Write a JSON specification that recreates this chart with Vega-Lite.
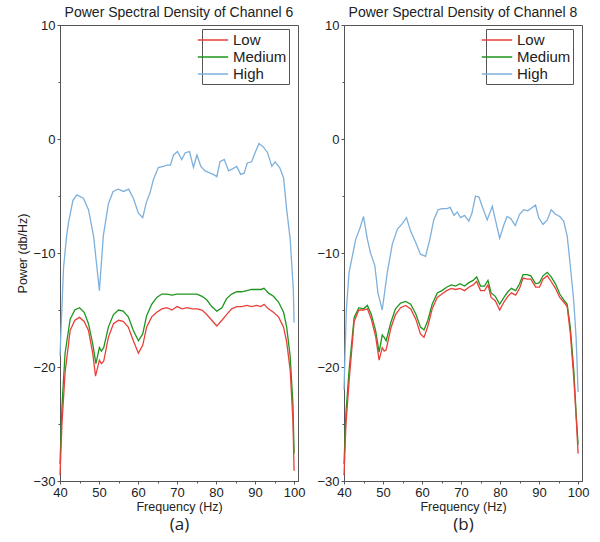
{
  "$schema": "https://vega.github.io/schema/vega-lite/v6.json",
  "padding": {"left": 16, "top": 5, "right": 5, "bottom": 5},
  "bounds": "flush",
  "spacing": 46,
  "datasets": {
    "psd": [
      {"panel":"a","level":"High","freq":40,"power":-19},
      {"panel":"a","level":"High","freq":40.9,"power":-11.3},
      {"panel":"a","level":"High","freq":41.7,"power":-8.5},
      {"panel":"a","level":"High","freq":42.2,"power":-7.3},
      {"panel":"a","level":"High","freq":43.3,"power":-5.4},
      {"panel":"a","level":"High","freq":44.3,"power":-4.9},
      {"panel":"a","level":"High","freq":46,"power":-5.2},
      {"panel":"a","level":"High","freq":47.3,"power":-6.2},
      {"panel":"a","level":"High","freq":48.6,"power":-8.5},
      {"panel":"a","level":"High","freq":50.1,"power":-13.3},
      {"panel":"a","level":"High","freq":51.1,"power":-8.5},
      {"panel":"a","level":"High","freq":52.4,"power":-5.7},
      {"panel":"a","level":"High","freq":53.6,"power":-4.6},
      {"panel":"a","level":"High","freq":54.9,"power":-4.4},
      {"panel":"a","level":"High","freq":56.3,"power":-4.6},
      {"panel":"a","level":"High","freq":57.6,"power":-4.4},
      {"panel":"a","level":"High","freq":58.8,"power":-5.2},
      {"panel":"a","level":"High","freq":60.1,"power":-6.5},
      {"panel":"a","level":"High","freq":61.2,"power":-6.9},
      {"panel":"a","level":"High","freq":62.1,"power":-5.6},
      {"panel":"a","level":"High","freq":63.1,"power":-4.7},
      {"panel":"a","level":"High","freq":63.9,"power":-3.6},
      {"panel":"a","level":"High","freq":65.2,"power":-2.5},
      {"panel":"a","level":"High","freq":66.5,"power":-2.4},
      {"panel":"a","level":"High","freq":67.4,"power":-2.3},
      {"panel":"a","level":"High","freq":68.3,"power":-2.3},
      {"panel":"a","level":"High","freq":69.1,"power":-1.4},
      {"panel":"a","level":"High","freq":70.1,"power":-1.1},
      {"panel":"a","level":"High","freq":71.2,"power":-1.8},
      {"panel":"a","level":"High","freq":72.1,"power":-1.2},
      {"panel":"a","level":"High","freq":73.2,"power":-1.1},
      {"panel":"a","level":"High","freq":74.2,"power":-2.5},
      {"panel":"a","level":"High","freq":75.1,"power":-1.4},
      {"panel":"a","level":"High","freq":76.1,"power":-2.4},
      {"panel":"a","level":"High","freq":77.2,"power":-2.8},
      {"panel":"a","level":"High","freq":78.5,"power":-3.0},
      {"panel":"a","level":"High","freq":79.3,"power":-3.1},
      {"panel":"a","level":"High","freq":80.2,"power":-3.3},
      {"panel":"a","level":"High","freq":81,"power":-2.0},
      {"panel":"a","level":"High","freq":82.1,"power":-1.8},
      {"panel":"a","level":"High","freq":83.2,"power":-2.8},
      {"panel":"a","level":"High","freq":84.3,"power":-2.6},
      {"panel":"a","level":"High","freq":85.3,"power":-2.4},
      {"panel":"a","level":"High","freq":86.3,"power":-3.1},
      {"panel":"a","level":"High","freq":87.2,"power":-3.0},
      {"panel":"a","level":"High","freq":88,"power":-2.1},
      {"panel":"a","level":"High","freq":89.1,"power":-2.0},
      {"panel":"a","level":"High","freq":90,"power":-1.2},
      {"panel":"a","level":"High","freq":91,"power":-0.4},
      {"panel":"a","level":"High","freq":92.1,"power":-0.7},
      {"panel":"a","level":"High","freq":93.2,"power":-1.2},
      {"panel":"a","level":"High","freq":94.3,"power":-2.4},
      {"panel":"a","level":"High","freq":95.1,"power":-2.0},
      {"panel":"a","level":"High","freq":96.3,"power":-2.5},
      {"panel":"a","level":"High","freq":97.3,"power":-3.4},
      {"panel":"a","level":"High","freq":98.1,"power":-6.2},
      {"panel":"a","level":"High","freq":99,"power":-8.8},
      {"panel":"a","level":"High","freq":99.8,"power":-13.2},
      {"panel":"a","level":"High","freq":100,"power":-16.1},

      {"panel":"a","level":"Medium","freq":40,"power":-28.5},
      {"panel":"a","level":"Medium","freq":40.5,"power":-23.5},
      {"panel":"a","level":"Medium","freq":41.3,"power":-18.8},
      {"panel":"a","level":"Medium","freq":42.6,"power":-15.8},
      {"panel":"a","level":"Medium","freq":43.8,"power":-15.0},
      {"panel":"a","level":"Medium","freq":45,"power":-14.8},
      {"panel":"a","level":"Medium","freq":46.2,"power":-15.2},
      {"panel":"a","level":"Medium","freq":47.3,"power":-16.2},
      {"panel":"a","level":"Medium","freq":48.4,"power":-18.0},
      {"panel":"a","level":"Medium","freq":49.2,"power":-19.7},
      {"panel":"a","level":"Medium","freq":50.1,"power":-18.3},
      {"panel":"a","level":"Medium","freq":50.6,"power":-18.6},
      {"panel":"a","level":"Medium","freq":51.2,"power":-18.3},
      {"panel":"a","level":"Medium","freq":52.4,"power":-16.5},
      {"panel":"a","level":"Medium","freq":53.7,"power":-15.4},
      {"panel":"a","level":"Medium","freq":55,"power":-15.0},
      {"panel":"a","level":"Medium","freq":56.2,"power":-15.1},
      {"panel":"a","level":"Medium","freq":57.5,"power":-15.6},
      {"panel":"a","level":"Medium","freq":58.8,"power":-16.8},
      {"panel":"a","level":"Medium","freq":60.1,"power":-17.7},
      {"panel":"a","level":"Medium","freq":61.2,"power":-17.1},
      {"panel":"a","level":"Medium","freq":62.2,"power":-15.5},
      {"panel":"a","level":"Medium","freq":63.5,"power":-14.5},
      {"panel":"a","level":"Medium","freq":64.8,"power":-13.9},
      {"panel":"a","level":"Medium","freq":66.1,"power":-13.6},
      {"panel":"a","level":"Medium","freq":67.4,"power":-13.6},
      {"panel":"a","level":"Medium","freq":68.7,"power":-13.7},
      {"panel":"a","level":"Medium","freq":70,"power":-13.6},
      {"panel":"a","level":"Medium","freq":71.3,"power":-13.6},
      {"panel":"a","level":"Medium","freq":72.6,"power":-13.6},
      {"panel":"a","level":"Medium","freq":73.9,"power":-13.6},
      {"panel":"a","level":"Medium","freq":75.1,"power":-13.6},
      {"panel":"a","level":"Medium","freq":76.4,"power":-13.8},
      {"panel":"a","level":"Medium","freq":77.6,"power":-14.1},
      {"panel":"a","level":"Medium","freq":78.9,"power":-14.7},
      {"panel":"a","level":"Medium","freq":80.2,"power":-15.1},
      {"panel":"a","level":"Medium","freq":81.5,"power":-14.8},
      {"panel":"a","level":"Medium","freq":82.7,"power":-14.0},
      {"panel":"a","level":"Medium","freq":84,"power":-13.6},
      {"panel":"a","level":"Medium","freq":85.3,"power":-13.4},
      {"panel":"a","level":"Medium","freq":86.6,"power":-13.4},
      {"panel":"a","level":"Medium","freq":87.9,"power":-13.3},
      {"panel":"a","level":"Medium","freq":89.1,"power":-13.2},
      {"panel":"a","level":"Medium","freq":90.4,"power":-13.2},
      {"panel":"a","level":"Medium","freq":91.5,"power":-13.2},
      {"panel":"a","level":"Medium","freq":92.3,"power":-13.1},
      {"panel":"a","level":"Medium","freq":93.4,"power":-13.5},
      {"panel":"a","level":"Medium","freq":94.7,"power":-13.8},
      {"panel":"a","level":"Medium","freq":96,"power":-14.3},
      {"panel":"a","level":"Medium","freq":97.3,"power":-15.2},
      {"panel":"a","level":"Medium","freq":98.1,"power":-16.5},
      {"panel":"a","level":"Medium","freq":99,"power":-19.1},
      {"panel":"a","level":"Medium","freq":99.7,"power":-23.2},
      {"panel":"a","level":"Medium","freq":100,"power":-27.6},

      {"panel":"a","level":"Low","freq":40,"power":-29.5},
      {"panel":"a","level":"Low","freq":40.5,"power":-25},
      {"panel":"a","level":"Low","freq":41.3,"power":-20.5},
      {"panel":"a","level":"Low","freq":42.6,"power":-16.8},
      {"panel":"a","level":"Low","freq":43.8,"power":-15.9},
      {"panel":"a","level":"Low","freq":45,"power":-15.65},
      {"panel":"a","level":"Low","freq":46.2,"power":-16.0},
      {"panel":"a","level":"Low","freq":47.3,"power":-16.8},
      {"panel":"a","level":"Low","freq":48.4,"power":-18.8},
      {"panel":"a","level":"Low","freq":49.1,"power":-20.8},
      {"panel":"a","level":"Low","freq":50.1,"power":-19.4},
      {"panel":"a","level":"Low","freq":50.6,"power":-19.7},
      {"panel":"a","level":"Low","freq":51.2,"power":-19.5},
      {"panel":"a","level":"Low","freq":52.4,"power":-17.4},
      {"panel":"a","level":"Low","freq":53.7,"power":-16.2},
      {"panel":"a","level":"Low","freq":55,"power":-15.9},
      {"panel":"a","level":"Low","freq":56.2,"power":-16.0},
      {"panel":"a","level":"Low","freq":57.5,"power":-16.5},
      {"panel":"a","level":"Low","freq":58.8,"power":-17.7},
      {"panel":"a","level":"Low","freq":60.1,"power":-18.8},
      {"panel":"a","level":"Low","freq":61.2,"power":-18.1},
      {"panel":"a","level":"Low","freq":62.2,"power":-16.5},
      {"panel":"a","level":"Low","freq":63.5,"power":-15.6},
      {"panel":"a","level":"Low","freq":64.8,"power":-15.2},
      {"panel":"a","level":"Low","freq":66.1,"power":-14.9},
      {"panel":"a","level":"Low","freq":67.4,"power":-14.8},
      {"panel":"a","level":"Low","freq":68.7,"power":-15.0},
      {"panel":"a","level":"Low","freq":70,"power":-14.7},
      {"panel":"a","level":"Low","freq":71.3,"power":-14.9},
      {"panel":"a","level":"Low","freq":72.6,"power":-14.8},
      {"panel":"a","level":"Low","freq":73.9,"power":-14.9},
      {"panel":"a","level":"Low","freq":75.1,"power":-14.9},
      {"panel":"a","level":"Low","freq":76.4,"power":-15.0},
      {"panel":"a","level":"Low","freq":77.6,"power":-15.4},
      {"panel":"a","level":"Low","freq":78.9,"power":-15.9},
      {"panel":"a","level":"Low","freq":80.2,"power":-16.4},
      {"panel":"a","level":"Low","freq":81.5,"power":-15.9},
      {"panel":"a","level":"Low","freq":82.7,"power":-15.4},
      {"panel":"a","level":"Low","freq":84,"power":-14.9},
      {"panel":"a","level":"Low","freq":85.3,"power":-14.7},
      {"panel":"a","level":"Low","freq":86.6,"power":-14.7},
      {"panel":"a","level":"Low","freq":87.9,"power":-14.6},
      {"panel":"a","level":"Low","freq":89.1,"power":-14.7},
      {"panel":"a","level":"Low","freq":90.4,"power":-14.6},
      {"panel":"a","level":"Low","freq":91.5,"power":-14.7},
      {"panel":"a","level":"Low","freq":92.3,"power":-14.5},
      {"panel":"a","level":"Low","freq":93.4,"power":-14.9},
      {"panel":"a","level":"Low","freq":94.7,"power":-15.2},
      {"panel":"a","level":"Low","freq":96,"power":-15.6},
      {"panel":"a","level":"Low","freq":97.3,"power":-16.5},
      {"panel":"a","level":"Low","freq":98.1,"power":-17.8},
      {"panel":"a","level":"Low","freq":99,"power":-20.3},
      {"panel":"a","level":"Low","freq":99.7,"power":-24.7},
      {"panel":"a","level":"Low","freq":100,"power":-29.1},

      {"panel":"b","level":"High","freq":40,"power":-22},
      {"panel":"b","level":"High","freq":40.6,"power":-15},
      {"panel":"b","level":"High","freq":41.3,"power":-11.7},
      {"panel":"b","level":"High","freq":43,"power":-8.8},
      {"panel":"b","level":"High","freq":44.1,"power":-7.8},
      {"panel":"b","level":"High","freq":45,"power":-6.8},
      {"panel":"b","level":"High","freq":46,"power":-8.8},
      {"panel":"b","level":"High","freq":46.8,"power":-10.0},
      {"panel":"b","level":"High","freq":47.9,"power":-11.1},
      {"panel":"b","level":"High","freq":48.7,"power":-13.5},
      {"panel":"b","level":"High","freq":49.8,"power":-15.0},
      {"panel":"b","level":"High","freq":51.1,"power":-11.7},
      {"panel":"b","level":"High","freq":52.4,"power":-9.2},
      {"panel":"b","level":"High","freq":53.7,"power":-7.9},
      {"panel":"b","level":"High","freq":55,"power":-7.4},
      {"panel":"b","level":"High","freq":56,"power":-6.9},
      {"panel":"b","level":"High","freq":57.1,"power":-8.1},
      {"panel":"b","level":"High","freq":58.4,"power":-9.1},
      {"panel":"b","level":"High","freq":59.6,"power":-10.1},
      {"panel":"b","level":"High","freq":60.9,"power":-10.3},
      {"panel":"b","level":"High","freq":62,"power":-8.8},
      {"panel":"b","level":"High","freq":63,"power":-7.1},
      {"panel":"b","level":"High","freq":64.1,"power":-6.2},
      {"panel":"b","level":"High","freq":65.1,"power":-6.1},
      {"panel":"b","level":"High","freq":66.4,"power":-6.1},
      {"panel":"b","level":"High","freq":67.2,"power":-6.0},
      {"panel":"b","level":"High","freq":68.2,"power":-6.7},
      {"panel":"b","level":"High","freq":69,"power":-6.4},
      {"panel":"b","level":"High","freq":69.9,"power":-6.9},
      {"panel":"b","level":"High","freq":70.9,"power":-6.7},
      {"panel":"b","level":"High","freq":72,"power":-7.2},
      {"panel":"b","level":"High","freq":72.8,"power":-6.5},
      {"panel":"b","level":"High","freq":73.7,"power":-5.0},
      {"panel":"b","level":"High","freq":74.6,"power":-5.1},
      {"panel":"b","level":"High","freq":75.4,"power":-5.9},
      {"panel":"b","level":"High","freq":76.7,"power":-7.1},
      {"panel":"b","level":"High","freq":78,"power":-5.9},
      {"panel":"b","level":"High","freq":78.8,"power":-7.1},
      {"panel":"b","level":"High","freq":79.9,"power":-8.7},
      {"panel":"b","level":"High","freq":81,"power":-7.5},
      {"panel":"b","level":"High","freq":81.8,"power":-6.8},
      {"panel":"b","level":"High","freq":82.8,"power":-7.0},
      {"panel":"b","level":"High","freq":83.9,"power":-7.6},
      {"panel":"b","level":"High","freq":85,"power":-6.6},
      {"panel":"b","level":"High","freq":86.1,"power":-6.2},
      {"panel":"b","level":"High","freq":87.1,"power":-6.3},
      {"panel":"b","level":"High","freq":87.9,"power":-6.1},
      {"panel":"b","level":"High","freq":89.1,"power":-5.8},
      {"panel":"b","level":"High","freq":89.9,"power":-6.9},
      {"panel":"b","level":"High","freq":91,"power":-7.5},
      {"panel":"b","level":"High","freq":92.1,"power":-7.1},
      {"panel":"b","level":"High","freq":93.1,"power":-6.2},
      {"panel":"b","level":"High","freq":94.2,"power":-6.6},
      {"panel":"b","level":"High","freq":95.3,"power":-6.8},
      {"panel":"b","level":"High","freq":96.3,"power":-7.2},
      {"panel":"b","level":"High","freq":97.2,"power":-8.5},
      {"panel":"b","level":"High","freq":98,"power":-11.1},
      {"panel":"b","level":"High","freq":98.9,"power":-14.3},
      {"panel":"b","level":"High","freq":99.5,"power":-17.5},
      {"panel":"b","level":"High","freq":100,"power":-22.2},

      {"panel":"b","level":"Medium","freq":40,"power":-28.5},
      {"panel":"b","level":"Medium","freq":40.5,"power":-24},
      {"panel":"b","level":"Medium","freq":41.3,"power":-20.3},
      {"panel":"b","level":"Medium","freq":42.6,"power":-15.65},
      {"panel":"b","level":"Medium","freq":43.8,"power":-14.8},
      {"panel":"b","level":"Medium","freq":45,"power":-14.9},
      {"panel":"b","level":"Medium","freq":46,"power":-14.6},
      {"panel":"b","level":"Medium","freq":47,"power":-15.4},
      {"panel":"b","level":"Medium","freq":48.1,"power":-16.8},
      {"panel":"b","level":"Medium","freq":49,"power":-18.7},
      {"panel":"b","level":"Medium","freq":49.8,"power":-17.2},
      {"panel":"b","level":"Medium","freq":50.3,"power":-17.4},
      {"panel":"b","level":"Medium","freq":50.8,"power":-17.7},
      {"panel":"b","level":"Medium","freq":52,"power":-16.1},
      {"panel":"b","level":"Medium","freq":53.2,"power":-14.9},
      {"panel":"b","level":"Medium","freq":54.5,"power":-14.4},
      {"panel":"b","level":"Medium","freq":55.8,"power":-14.25},
      {"panel":"b","level":"Medium","freq":57.1,"power":-14.5},
      {"panel":"b","level":"Medium","freq":58.4,"power":-15.35},
      {"panel":"b","level":"Medium","freq":59.6,"power":-16.5},
      {"panel":"b","level":"Medium","freq":60.5,"power":-16.75},
      {"panel":"b","level":"Medium","freq":61.5,"power":-15.9},
      {"panel":"b","level":"Medium","freq":62.6,"power":-14.5},
      {"panel":"b","level":"Medium","freq":63.9,"power":-13.5},
      {"panel":"b","level":"Medium","freq":65.1,"power":-13.3},
      {"panel":"b","level":"Medium","freq":66.3,"power":-13.0},
      {"panel":"b","level":"Medium","freq":67.5,"power":-12.8},
      {"panel":"b","level":"Medium","freq":68.6,"power":-12.9},
      {"panel":"b","level":"Medium","freq":69.7,"power":-12.7},
      {"panel":"b","level":"Medium","freq":70.9,"power":-12.9},
      {"panel":"b","level":"Medium","freq":72,"power":-12.6},
      {"panel":"b","level":"Medium","freq":73.1,"power":-12.4},
      {"panel":"b","level":"Medium","freq":74,"power":-12.1},
      {"panel":"b","level":"Medium","freq":75,"power":-12.9},
      {"panel":"b","level":"Medium","freq":76,"power":-12.9},
      {"panel":"b","level":"Medium","freq":76.9,"power":-12.4},
      {"panel":"b","level":"Medium","freq":77.7,"power":-13.5},
      {"panel":"b","level":"Medium","freq":78.8,"power":-13.8},
      {"panel":"b","level":"Medium","freq":79.9,"power":-14.5},
      {"panel":"b","level":"Medium","freq":81,"power":-13.9},
      {"panel":"b","level":"Medium","freq":82,"power":-13.4},
      {"panel":"b","level":"Medium","freq":82.9,"power":-13.1},
      {"panel":"b","level":"Medium","freq":84,"power":-13.3},
      {"panel":"b","level":"Medium","freq":85,"power":-12.7},
      {"panel":"b","level":"Medium","freq":85.9,"power":-11.9},
      {"panel":"b","level":"Medium","freq":87,"power":-11.9},
      {"panel":"b","level":"Medium","freq":87.9,"power":-12.0},
      {"panel":"b","level":"Medium","freq":89.1,"power":-12.7},
      {"panel":"b","level":"Medium","freq":90.1,"power":-12.6},
      {"panel":"b","level":"Medium","freq":91,"power":-12.0},
      {"panel":"b","level":"Medium","freq":92.1,"power":-11.7},
      {"panel":"b","level":"Medium","freq":93.1,"power":-12.1},
      {"panel":"b","level":"Medium","freq":94.2,"power":-12.7},
      {"panel":"b","level":"Medium","freq":95.3,"power":-13.6},
      {"panel":"b","level":"Medium","freq":96.3,"power":-14.1},
      {"panel":"b","level":"Medium","freq":97.2,"power":-14.5},
      {"panel":"b","level":"Medium","freq":98,"power":-16.5},
      {"panel":"b","level":"Medium","freq":98.9,"power":-20.3},
      {"panel":"b","level":"Medium","freq":99.6,"power":-24.7},
      {"panel":"b","level":"Medium","freq":100,"power":-26.8},

      {"panel":"b","level":"Low","freq":40,"power":-29.5},
      {"panel":"b","level":"Low","freq":40.5,"power":-25},
      {"panel":"b","level":"Low","freq":41.3,"power":-21.3},
      {"panel":"b","level":"Low","freq":42.6,"power":-16.0},
      {"panel":"b","level":"Low","freq":43.8,"power":-15.0},
      {"panel":"b","level":"Low","freq":45,"power":-15.0},
      {"panel":"b","level":"Low","freq":46,"power":-14.9},
      {"panel":"b","level":"Low","freq":47,"power":-15.8},
      {"panel":"b","level":"Low","freq":48.1,"power":-17.3},
      {"panel":"b","level":"Low","freq":49,"power":-19.4},
      {"panel":"b","level":"Low","freq":49.8,"power":-18.3},
      {"panel":"b","level":"Low","freq":50.3,"power":-18.6},
      {"panel":"b","level":"Low","freq":50.8,"power":-18.5},
      {"panel":"b","level":"Low","freq":52,"power":-16.6},
      {"panel":"b","level":"Low","freq":53.2,"power":-15.4},
      {"panel":"b","level":"Low","freq":54.5,"power":-14.8},
      {"panel":"b","level":"Low","freq":55.8,"power":-14.6},
      {"panel":"b","level":"Low","freq":57.1,"power":-14.9},
      {"panel":"b","level":"Low","freq":58.4,"power":-15.8},
      {"panel":"b","level":"Low","freq":59.6,"power":-17.1},
      {"panel":"b","level":"Low","freq":60.5,"power":-17.4},
      {"panel":"b","level":"Low","freq":61.5,"power":-16.4},
      {"panel":"b","level":"Low","freq":62.6,"power":-14.9},
      {"panel":"b","level":"Low","freq":63.9,"power":-13.9},
      {"panel":"b","level":"Low","freq":65.1,"power":-13.6},
      {"panel":"b","level":"Low","freq":66.3,"power":-13.3},
      {"panel":"b","level":"Low","freq":67.5,"power":-13.1},
      {"panel":"b","level":"Low","freq":68.6,"power":-13.2},
      {"panel":"b","level":"Low","freq":69.7,"power":-13.1},
      {"panel":"b","level":"Low","freq":70.9,"power":-13.3},
      {"panel":"b","level":"Low","freq":72,"power":-13.0},
      {"panel":"b","level":"Low","freq":73.1,"power":-12.8},
      {"panel":"b","level":"Low","freq":74,"power":-12.5},
      {"panel":"b","level":"Low","freq":75,"power":-13.3},
      {"panel":"b","level":"Low","freq":76,"power":-13.3},
      {"panel":"b","level":"Low","freq":76.9,"power":-12.8},
      {"panel":"b","level":"Low","freq":77.7,"power":-13.9},
      {"panel":"b","level":"Low","freq":78.8,"power":-14.2},
      {"panel":"b","level":"Low","freq":79.9,"power":-15.0},
      {"panel":"b","level":"Low","freq":81,"power":-14.3},
      {"panel":"b","level":"Low","freq":82,"power":-13.8},
      {"panel":"b","level":"Low","freq":82.9,"power":-13.5},
      {"panel":"b","level":"Low","freq":84,"power":-13.7},
      {"panel":"b","level":"Low","freq":85,"power":-13.1},
      {"panel":"b","level":"Low","freq":85.9,"power":-12.2},
      {"panel":"b","level":"Low","freq":87,"power":-12.3},
      {"panel":"b","level":"Low","freq":87.9,"power":-12.3},
      {"panel":"b","level":"Low","freq":89.1,"power":-13.0},
      {"panel":"b","level":"Low","freq":90.1,"power":-13.0},
      {"panel":"b","level":"Low","freq":91,"power":-12.3},
      {"panel":"b","level":"Low","freq":92.1,"power":-12.0},
      {"panel":"b","level":"Low","freq":93.1,"power":-12.5},
      {"panel":"b","level":"Low","freq":94.2,"power":-13.1},
      {"panel":"b","level":"Low","freq":95.3,"power":-13.9},
      {"panel":"b","level":"Low","freq":96.3,"power":-14.3},
      {"panel":"b","level":"Low","freq":97.2,"power":-14.7},
      {"panel":"b","level":"Low","freq":98,"power":-17.0},
      {"panel":"b","level":"Low","freq":98.9,"power":-21.0},
      {"panel":"b","level":"Low","freq":99.6,"power":-25.0},
      {"panel":"b","level":"Low","freq":100,"power":-27.6}
    ]
  },
  "hconcat": [
    {
      "width": 238,
      "height": 456,
      "title": "Power Spectral Density of Channel 6",
      "data": {"name": "psd"},
      "transform": [{"filter": "datum.panel === 'a'"}],
      "layer": [
        {
          "mark": {"type": "line", "strokeWidth": 1.3},
          "encoding": {
            "x": {"field": "freq", "type": "quantitative", "scale": {"domain": [40, 101], "nice": false, "zero": false},
                  "axis": {"title": "Frequency (Hz)", "titlePadding": 1, "labelFlush": false, "values": [40,45,50,55,60,65,70,75,80,85,90,95,100],
                           "labelExpr": "datum.value % 10 === 0 ? datum.label : ''",
                           "tickSize": {"condition": {"test": "datum.value % 10 !== 0", "value": 2}, "value": 3}}},
            "y": {"field": "power", "type": "quantitative", "scale": {"domain": [-30, 10], "nice": false, "zero": false},
                  "axis": {"title": "Power (db/Hz)", "labelFlush": false, "values": [-30,-25,-20,-15,-10,-5,0,5,10],
                           "labelExpr": "datum.value % 10 === 0 ? datum.label : ''",
                           "tickSize": {"condition": {"test": "datum.value % 10 !== 0", "value": 2}, "value": 3}}},
            "color": {"field": "level", "type": "nominal",
                      "scale": {"domain": ["Low", "Medium", "High"], "range": ["#e8403a", "#1e961e", "#7eb0dc"]},
                      "legend": {"title": null, "orient": "none", "legendX": 142, "legendY": 4}}
          }
        },
        {
          "mark": {"type": "line", "strokeOpacity": 0},
          "encoding": {
            "x": {"field": "freq", "type": "quantitative", "scale": {"domain": [40, 101], "nice": false, "zero": false},
                  "axis": {"orient": "bottom", "title": "(a)", "labels": false, "ticks": false, "domain": false,
                           "titleFont": "Open Sans", "titleFontSize": 17, "titlePadding": 35}},
            "y": {"field": "power", "type": "quantitative", "scale": {"domain": [-30, 10], "nice": false, "zero": false}},
            "detail": {"field": "level"}
          }
        }
      ],
      "resolve": {"axis": {"x": "independent"}}
    },
    {
      "width": 238,
      "height": 456,
      "title": "Power Spectral Density of Channel 8",
      "data": {"name": "psd"},
      "transform": [{"filter": "datum.panel === 'b'"}],
      "layer": [
        {
          "mark": {"type": "line", "strokeWidth": 1.3},
          "encoding": {
            "x": {"field": "freq", "type": "quantitative", "scale": {"domain": [40, 101], "nice": false, "zero": false},
                  "axis": {"title": "Frequency (Hz)", "titlePadding": 1, "labelFlush": false, "values": [40,45,50,55,60,65,70,75,80,85,90,95,100],
                           "labelExpr": "datum.value % 10 === 0 ? datum.label : ''",
                           "tickSize": {"condition": {"test": "datum.value % 10 !== 0", "value": 2}, "value": 3}}},
            "y": {"field": "power", "type": "quantitative", "scale": {"domain": [-30, 10], "nice": false, "zero": false},
                  "axis": {"title": null, "labelFlush": false, "values": [-30,-25,-20,-15,-10,-5,0,5,10],
                           "labelExpr": "datum.value % 10 === 0 ? datum.label : ''",
                           "tickSize": {"condition": {"test": "datum.value % 10 !== 0", "value": 2}, "value": 3}}},
            "color": {"field": "level", "type": "nominal",
                      "scale": {"domain": ["Low", "Medium", "High"], "range": ["#e8403a", "#1e961e", "#7eb0dc"]},
                      "legend": {"title": null, "orient": "none", "legendX": 142, "legendY": 4}}
          }
        },
        {
          "mark": {"type": "line", "strokeOpacity": 0},
          "encoding": {
            "x": {"field": "freq", "type": "quantitative", "scale": {"domain": [40, 101], "nice": false, "zero": false},
                  "axis": {"orient": "bottom", "title": "(b)", "labels": false, "ticks": false, "domain": false,
                           "titleFont": "Open Sans", "titleFontSize": 17, "titlePadding": 35}},
            "y": {"field": "power", "type": "quantitative", "scale": {"domain": [-30, 10], "nice": false, "zero": false}},
            "detail": {"field": "level"}
          }
        }
      ],
      "resolve": {"axis": {"x": "independent"}}
    }
  ],
  "resolve": {"scale": {"color": "independent"}, "legend": {"color": "independent"}},
  "config": {
    "font": "Liberation Sans",
    "background": "white",
    "view": {"stroke": "#555", "strokeWidth": 1},
    "axis": {"grid": false, "labelFontSize": 13, "labelColor": "#222", "labelPadding": 2,
             "titleFontSize": 12.5, "titleFontWeight": "normal", "titleColor": "#222", "titlePadding": 3,
             "domainColor": "#555", "tickColor": "#555", "labelFont": "Liberation Sans", "titleFont": "Liberation Sans"},
    "title": {"fontSize": 14, "fontWeight": "normal", "color": "#222", "offset": 2, "dy": 3, "font": "Liberation Sans"},
    "legend": {"strokeColor": "#555", "padding": 2, "symbolType": "M-1.9,0H1.9",
               "symbolSize": 256, "symbolStrokeWidth": 1.5, "labelFontSize": 15, "labelColor": "#222", "rowPadding": 0, "labelOffset": 11,
               "fillColor": "white", "cornerRadius": 0}
  }
}
